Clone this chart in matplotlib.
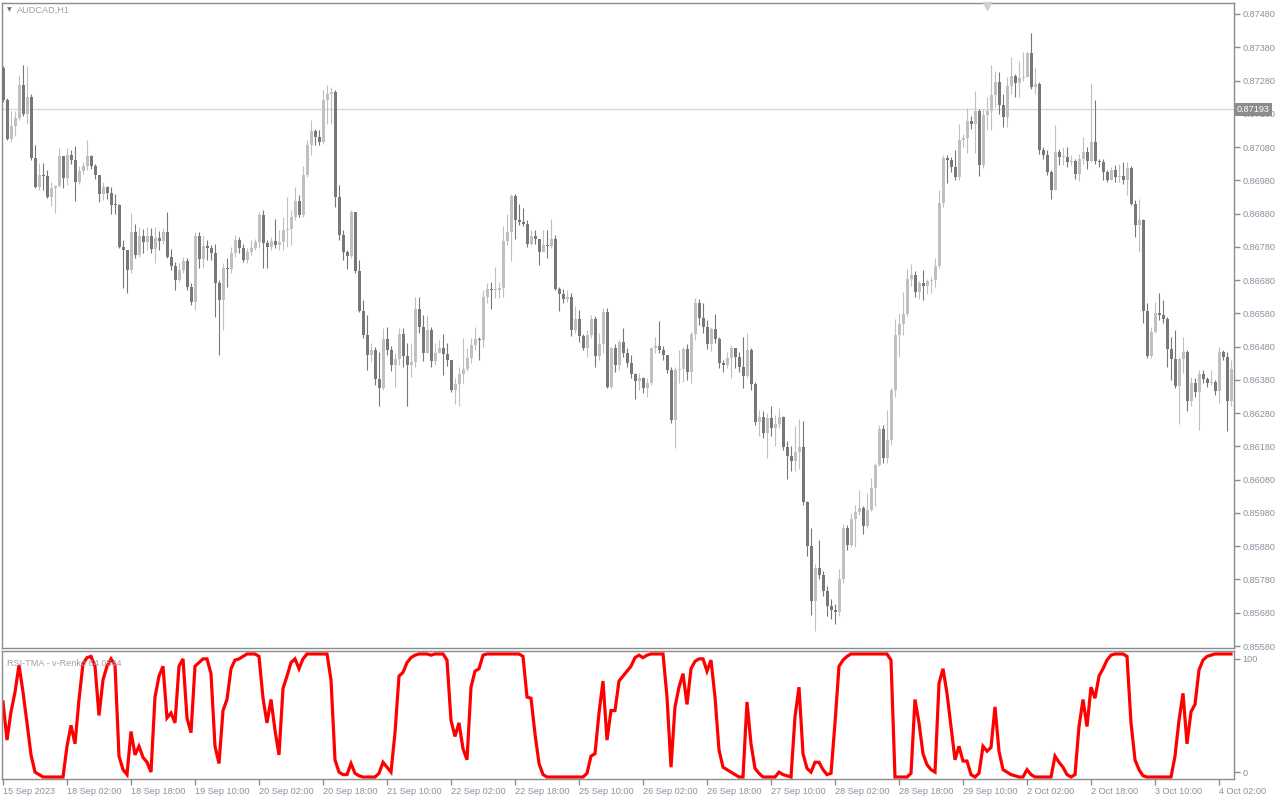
import matplotlib.pyplot as plt
import matplotlib.transforms as mtransforms
import numpy as np

plt.rcParams['font.family'] = ['Liberation Sans', 'DejaVu Sans']

# AUDCAD H1 candles, 15 Sep 2023 10:00 -> 4 Oct 2023 05:00 (308 bars)
first_open = 0.87317
closes = [
    0.87220, 0.87105, 0.87142, 0.87167, 0.87267, 0.87180, 0.87231, 0.87047, 0.86960, 0.86997,
    0.86992, 0.86929, 0.86957, 0.86962, 0.87054, 0.86987, 0.87057, 0.87042, 0.86974, 0.87007,
    0.87022, 0.87052, 0.87022, 0.86995, 0.86939, 0.86959, 0.86942, 0.86907, 0.86905, 0.86780,
    0.86770, 0.86710, 0.86824, 0.86755, 0.86812, 0.86794, 0.86812, 0.86772, 0.86807, 0.86797,
    0.86824, 0.86749, 0.86722, 0.86679, 0.86710, 0.86737, 0.86659, 0.86614, 0.86812, 0.86742,
    0.86782, 0.86775, 0.86762, 0.86672, 0.86620, 0.86717, 0.86712, 0.86762, 0.86802, 0.86775,
    0.86740, 0.86764, 0.86777, 0.86794, 0.86875, 0.86792, 0.86780, 0.86797, 0.86787, 0.86794,
    0.86832, 0.86835, 0.86869, 0.86917, 0.86875, 0.86997, 0.87087, 0.87127, 0.87110, 0.87094,
    0.87222, 0.87239, 0.87245, 0.86929, 0.86815, 0.86765, 0.86752, 0.86885, 0.86707, 0.86587,
    0.86515, 0.86455, 0.86469, 0.86382, 0.86355, 0.86502, 0.86470, 0.86424, 0.86442, 0.86519,
    0.86452, 0.86425, 0.86434, 0.86592, 0.86539, 0.86462, 0.86529, 0.86437, 0.86462, 0.86477,
    0.86457, 0.86439, 0.86350, 0.86367, 0.86397, 0.86412, 0.86447, 0.86484, 0.86502, 0.86499,
    0.86630, 0.86652, 0.86650, 0.86651, 0.86657, 0.86799, 0.86824, 0.86934, 0.86860, 0.86855,
    0.86850, 0.86790, 0.86814, 0.86804, 0.86764, 0.86785, 0.86782, 0.86804, 0.86654, 0.86637,
    0.86622, 0.86630, 0.86530, 0.86562, 0.86512, 0.86475, 0.86514, 0.86562, 0.86452, 0.86487,
    0.86584, 0.86360, 0.86477, 0.86425, 0.86494, 0.86462, 0.86430, 0.86399, 0.86377, 0.86385,
    0.86355, 0.86370, 0.86475, 0.86482, 0.86470, 0.86454, 0.86410, 0.86260, 0.86410, 0.86412,
    0.86472, 0.86404, 0.86517, 0.86610, 0.86567, 0.86539, 0.86487, 0.86532, 0.86502, 0.86430,
    0.86425, 0.86445, 0.86475, 0.86450, 0.86419, 0.86392, 0.86470, 0.86369, 0.86254, 0.86269,
    0.86220, 0.86265, 0.86235, 0.86247, 0.86269, 0.86177, 0.86152, 0.86137, 0.86164, 0.86177,
    0.86014, 0.85882, 0.85714, 0.85814, 0.85794, 0.85744, 0.85699, 0.85687, 0.85682, 0.85782,
    0.85935, 0.85885, 0.85962, 0.85984, 0.85994, 0.85940, 0.85989, 0.86054, 0.86124, 0.86232,
    0.86145, 0.86199, 0.86349, 0.86514, 0.86547, 0.86577, 0.86682, 0.86694, 0.86644, 0.86670,
    0.86662, 0.86677, 0.86680, 0.86722, 0.86912, 0.87047, 0.87042, 0.87020, 0.86990, 0.87102,
    0.87106, 0.87159, 0.87149, 0.87189, 0.87025, 0.87177, 0.87187, 0.87237, 0.87277, 0.87207,
    0.87169, 0.87264, 0.87294, 0.87274, 0.87289, 0.87292, 0.87362, 0.87259, 0.87269, 0.87072,
    0.87057, 0.87004, 0.86950, 0.87065, 0.87049, 0.87051, 0.87034, 0.87037, 0.87000, 0.87044,
    0.87065, 0.87037, 0.87095, 0.87039, 0.87034, 0.87004, 0.86982, 0.87012, 0.86990, 0.86994,
    0.86980, 0.87017, 0.86909, 0.86845, 0.86862, 0.86587, 0.86452, 0.86524, 0.86580, 0.86575,
    0.86564, 0.86472, 0.86444, 0.86362, 0.86442, 0.86464, 0.86317, 0.86372, 0.86345, 0.86397,
    0.86384, 0.86372, 0.86374, 0.86347, 0.86464, 0.86450, 0.86317, 0.86412,
]
highs = [
    0.87325, 0.87227, 0.87187, 0.87187, 0.87297, 0.87327, 0.87324, 0.87240, 0.87087, 0.87032,
    0.87032, 0.87012, 0.86975, 0.86967, 0.87077, 0.87002, 0.87077, 0.87072, 0.87082, 0.87022,
    0.87035, 0.87100, 0.87055, 0.87030, 0.86985, 0.86975, 0.86962, 0.86960, 0.86940, 0.86910,
    0.86800, 0.86765, 0.86882, 0.86850, 0.86840, 0.86835, 0.86840, 0.86838, 0.86840, 0.86828,
    0.86837, 0.86885, 0.86772, 0.86735, 0.86730, 0.86750, 0.86745, 0.86670, 0.86825, 0.86825,
    0.86815, 0.86800, 0.86785, 0.86790, 0.86680, 0.86730, 0.86745, 0.86780, 0.86817, 0.86810,
    0.86790, 0.86777, 0.86800, 0.86805, 0.86885, 0.86890, 0.86800, 0.86810, 0.86865, 0.86830,
    0.86870, 0.86930, 0.86890, 0.86960, 0.86935, 0.87022, 0.87100, 0.87160, 0.87135, 0.87130,
    0.87252, 0.87267, 0.87260, 0.87250, 0.86965, 0.86830, 0.86770, 0.86890, 0.86885, 0.86740,
    0.86620, 0.86575, 0.86490, 0.86480, 0.86465, 0.86537, 0.86540, 0.86482, 0.86460, 0.86537,
    0.86537, 0.86490, 0.86490, 0.86630, 0.86630, 0.86575, 0.86575, 0.86540, 0.86490, 0.86500,
    0.86517, 0.86490, 0.86440, 0.86385, 0.86420, 0.86505, 0.86475, 0.86507, 0.86540, 0.86510,
    0.86650, 0.86670, 0.86675, 0.86720, 0.86675, 0.86842, 0.86880, 0.86940, 0.86940, 0.86910,
    0.86897, 0.86862, 0.86832, 0.86830, 0.86800, 0.86830, 0.86832, 0.86865, 0.86817, 0.86660,
    0.86652, 0.86650, 0.86640, 0.86602, 0.86590, 0.86517, 0.86530, 0.86575, 0.86572, 0.86520,
    0.86595, 0.86595, 0.86480, 0.86487, 0.86500, 0.86535, 0.86475, 0.86455, 0.86400, 0.86400,
    0.86390, 0.86385, 0.86480, 0.86510, 0.86557, 0.86482, 0.86455, 0.86420, 0.86420, 0.86470,
    0.86480, 0.86487, 0.86525, 0.86625, 0.86622, 0.86612, 0.86560, 0.86540, 0.86577, 0.86510,
    0.86440, 0.86465, 0.86485, 0.86465, 0.86465, 0.86510, 0.86522, 0.86475, 0.86375, 0.86290,
    0.86285, 0.86280, 0.86300, 0.86275, 0.86295, 0.86270, 0.86195, 0.86180, 0.86240, 0.86262,
    0.86255, 0.86017, 0.85935, 0.85827, 0.85900, 0.85805, 0.85760, 0.85720, 0.85705, 0.85812,
    0.85948, 0.85945, 0.85980, 0.86005, 0.86050, 0.86000, 0.86040, 0.86085, 0.86130, 0.86245,
    0.86245, 0.86290, 0.86357, 0.86562, 0.86582, 0.86645, 0.86712, 0.86727, 0.86707, 0.86677,
    0.86710, 0.86682, 0.86690, 0.86745, 0.86950, 0.87055, 0.87055, 0.87050, 0.87070, 0.87150,
    0.87120, 0.87197, 0.87172, 0.87247, 0.87195, 0.87195, 0.87230, 0.87327, 0.87310, 0.87305,
    0.87240, 0.87290, 0.87352, 0.87300, 0.87340, 0.87365, 0.87367, 0.87422, 0.87320, 0.87275,
    0.87080, 0.87070, 0.87012, 0.87145, 0.87075, 0.87080, 0.87080, 0.87055, 0.87045, 0.87060,
    0.87110, 0.87080, 0.87272, 0.87222, 0.87045, 0.87045, 0.87010, 0.87020, 0.87025, 0.87030,
    0.87035, 0.87035, 0.87022, 0.86920, 0.86925, 0.86865, 0.86610, 0.86540, 0.86615, 0.86640,
    0.86620, 0.86570, 0.86510, 0.86530, 0.86450, 0.86510, 0.86470, 0.86390, 0.86385, 0.86410,
    0.86410, 0.86390, 0.86410, 0.86380, 0.86480, 0.86470, 0.86465, 0.86440,
]
lows = [
    0.87215, 0.87100, 0.87094, 0.87114, 0.87160, 0.87172, 0.87150, 0.87040, 0.86957, 0.86952,
    0.86950, 0.86927, 0.86902, 0.86882, 0.86960, 0.86957, 0.86967, 0.87030, 0.86917, 0.86970,
    0.87000, 0.87012, 0.87015, 0.86985, 0.86915, 0.86920, 0.86925, 0.86880, 0.86880, 0.86775,
    0.86655, 0.86640, 0.86700, 0.86745, 0.86750, 0.86760, 0.86770, 0.86760, 0.86732, 0.86770,
    0.86790, 0.86745, 0.86710, 0.86650, 0.86675, 0.86700, 0.86650, 0.86605, 0.86590, 0.86715,
    0.86715, 0.86740, 0.86740, 0.86570, 0.86455, 0.86530, 0.86660, 0.86700, 0.86750, 0.86760,
    0.86735, 0.86730, 0.86755, 0.86770, 0.86775, 0.86715, 0.86715, 0.86770, 0.86775, 0.86770,
    0.86770, 0.86780, 0.86785, 0.86860, 0.86870, 0.86870, 0.86990, 0.87055, 0.87085, 0.87085,
    0.87090, 0.87150, 0.87150, 0.86900, 0.86800, 0.86740, 0.86712, 0.86745, 0.86700, 0.86585,
    0.86505, 0.86410, 0.86435, 0.86365, 0.86300, 0.86350, 0.86455, 0.86407, 0.86360, 0.86425,
    0.86420, 0.86300, 0.86390, 0.86420, 0.86520, 0.86437, 0.86480, 0.86420, 0.86425, 0.86465,
    0.86395, 0.86422, 0.86345, 0.86307, 0.86300, 0.86370, 0.86407, 0.86432, 0.86470, 0.86440,
    0.86480, 0.86610, 0.86592, 0.86625, 0.86625, 0.86630, 0.86785, 0.86737, 0.86805, 0.86845,
    0.86842, 0.86780, 0.86785, 0.86790, 0.86725, 0.86765, 0.86747, 0.86775, 0.86650, 0.86587,
    0.86610, 0.86615, 0.86512, 0.86520, 0.86495, 0.86470, 0.86450, 0.86505, 0.86420, 0.86440,
    0.86460, 0.86355, 0.86355, 0.86405, 0.86410, 0.86450, 0.86420, 0.86385, 0.86322, 0.86350,
    0.86340, 0.86330, 0.86365, 0.86460, 0.86460, 0.86440, 0.86400, 0.86250, 0.86175, 0.86370,
    0.86375, 0.86380, 0.86372, 0.86500, 0.86545, 0.86522, 0.86472, 0.86467, 0.86490, 0.86415,
    0.86405, 0.86417, 0.86387, 0.86417, 0.86405, 0.86355, 0.86385, 0.86350, 0.86245, 0.86210,
    0.86205, 0.86145, 0.86210, 0.86180, 0.86235, 0.86170, 0.86082, 0.86107, 0.86105, 0.86112,
    0.86005, 0.85850, 0.85672, 0.85625, 0.85780, 0.85730, 0.85670, 0.85660, 0.85647, 0.85670,
    0.85770, 0.85870, 0.85877, 0.85877, 0.85975, 0.85917, 0.85935, 0.85985, 0.86000, 0.86120,
    0.86130, 0.86130, 0.86185, 0.86330, 0.86450, 0.86515, 0.86572, 0.86662, 0.86630, 0.86622,
    0.86620, 0.86637, 0.86640, 0.86660, 0.86715, 0.86900, 0.86972, 0.87005, 0.86980, 0.86982,
    0.87080, 0.87062, 0.87135, 0.87062, 0.86992, 0.87017, 0.87130, 0.87130, 0.87200, 0.87180,
    0.87140, 0.87140, 0.87240, 0.87230, 0.87230, 0.87280, 0.87290, 0.87255, 0.87240, 0.87060,
    0.87045, 0.86995, 0.86925, 0.86950, 0.87025, 0.87025, 0.87020, 0.87025, 0.86985, 0.86977,
    0.87030, 0.87015, 0.87035, 0.87030, 0.87020, 0.86980, 0.86975, 0.86980, 0.86975, 0.86975,
    0.86970, 0.86935, 0.86905, 0.86810, 0.86765, 0.86552, 0.86447, 0.86447, 0.86520, 0.86560,
    0.86550, 0.86420, 0.86380, 0.86355, 0.86248, 0.86400, 0.86285, 0.86300, 0.86330, 0.86230,
    0.86370, 0.86360, 0.86365, 0.86335, 0.86310, 0.86440, 0.86225, 0.86300,
]

# RSI-TMA indicator values (0..100)
rsi_tma = [
    61, 30, 53, 69, 91, 69, 44, 18, 4, 2, 0, 0, 0, 0, 0, 0, 25, 42, 27, 63,
    92, 97, 98, 90, 50, 79, 90, 96, 91, 17, 6, 2, 37, 18, 25, 16, 12, 4, 65, 82,
    90, 48, 52, 44, 90, 96, 48, 36, 90, 93, 96, 96, 84, 25, 11, 54, 63, 88, 95, 96,
    98, 100, 100, 100, 98, 64, 44, 63, 38, 18, 72, 82, 93, 96, 88, 96, 100, 100, 100, 100,
    100, 100, 79, 14, 4, 2, 2, 11, 3, 1, 0, 0, 0, 0, 3, 12, 8, 4, 36, 82,
    85, 93, 97, 99, 100, 100, 100, 99, 100, 100, 100, 95, 46, 33, 44, 23, 14, 73, 86, 88,
    99, 100, 100, 100, 100, 100, 100, 100, 100, 100, 98, 65, 64, 35, 11, 2, 0, 0, 0, 0,
    0, 0, 0, 0, 0, 0, 3, 17, 19, 52, 78, 30, 54, 54, 78, 82, 86, 90, 97, 99,
    97, 99, 100, 100, 100, 100, 65, 8, 57, 73, 84, 59, 88, 94, 96, 96, 86, 95, 65, 22,
    8, 6, 4, 2, 0, 0, 61, 27, 7, 3, 0, 0, 0, 0, 4, 2, 1, 0, 49, 73,
    19, 7, 4, 12, 12, 6, 2, 3, 44, 90, 95, 98, 100, 100, 100, 100, 100, 100, 100, 100,
    100, 100, 95, 0, 0, 0, 0, 3, 63, 44, 19, 10, 6, 4, 76, 88, 68, 41, 14, 25,
    13, 13, 2, 0, 3, 25, 21, 24, 57, 21, 6, 4, 2, 1, 0, 0, 6, 2, 0, 0,
    0, 0, 0, 17, 12, 8, 2, 0, 2, 41, 63, 41, 73, 64, 82, 88, 95, 99, 100, 100,
    100, 98, 44, 14, 6, 1, 0, 0, 0, 0, 0, 0, 0, 17, 46, 68, 27, 53, 59, 87,
    95, 98, 99, 100, 100, 100, 100, 100,
]

date_pos = [0, 16, 32, 48, 64, 80, 96, 112, 128, 144, 160, 176, 192, 208, 224, 240, 256, 272, 288, 304]
date_labels = ['15 Sep 2023', '18 Sep 02:00', '18 Sep 18:00', '19 Sep 10:00', '20 Sep 02:00',
               '20 Sep 18:00', '21 Sep 10:00', '22 Sep 02:00', '22 Sep 18:00', '25 Sep 10:00',
               '26 Sep 02:00', '26 Sep 18:00', '27 Sep 10:00', '28 Sep 02:00', '28 Sep 18:00',
               '29 Sep 10:00', '2 Oct 02:00', '2 Oct 18:00', '3 Oct 10:00', '4 Oct 02:00']
price_ticks = [0.87480, 0.87380, 0.87280, 0.87180, 0.87080, 0.86980, 0.86880, 0.86780, 0.86680,
               0.86580, 0.86480, 0.86380, 0.86280, 0.86180, 0.86080, 0.85980, 0.85880, 0.85780,
               0.85680, 0.85580]
line_price = 0.87193

BULL = '#c0c0c0'
BEAR = '#787878'
FRAME = '#8c8c8c'
TXT = '#8c90a0'
FS = 6.6

closes = np.array(closes)
opens = np.concatenate([[first_open], closes[:-1]])
hi = np.maximum(np.array(highs), np.maximum(opens, closes))
lo = np.minimum(np.array(lows), np.minimum(opens, closes))
x = np.arange(len(closes))
cols = [BULL if c >= o else BEAR for o, c in zip(opens, closes)]

fig = plt.figure(figsize=(12.8, 8), dpi=100)
ax = fig.add_axes([2 / 1280, 1 - 648 / 800, 1232 / 1280, 645 / 800])
ax2 = fig.add_axes([2 / 1280, 1 - 779 / 800, 1232 / 1280, 128 / 800])

# price chart
ax.axhline(line_price, color='#d8d8d8', lw=1, zorder=1)
ax.vlines(x, lo, hi, colors=cols, lw=0.8, zorder=2)
body_h = np.maximum(np.abs(closes - opens), 0.00003)
ax.bar(x, body_h, bottom=np.minimum(opens, closes), width=0.75, color=cols, lw=0, zorder=3)

ax.set_xlim(-0.25, 307.75)
ax.set_ylim(0.85574, 0.87513)
ax.yaxis.tick_right()
ax.set_yticks(price_ticks)
ax.set_yticklabels(['%.5f' % p for p in price_ticks])
ax.tick_params(axis='y', direction='out', length=4, width=1, color=FRAME, labelcolor=TXT,
               labelsize=FS, pad=2)
ax.tick_params(axis='x', bottom=False, labelbottom=False)
for s in ax.spines.values():
    s.set_color(FRAME)
    s.set_linewidth(1)

trans = mtransforms.blended_transform_factory(ax.transAxes, ax.transData)
ax.text(1.0025, line_price, '0.87193', transform=trans, ha='left', va='center', fontsize=FS,
        color='white', bbox=dict(fc='#8c8c8c', ec='none', pad=1.3), zorder=5)
ax.text(0.004, 0.989, '\u25bc', transform=ax.transAxes, fontsize=4.5, color='#707070',
        va='center', family='DejaVu Sans')
ax.text(0.0125, 0.989, 'AUDCAD,H1', transform=ax.transAxes, fontsize=FS, color='#a0a0ac',
        va='center')
ax.plot([246], [0.87505], marker='v', ms=6, color='#d0d0d0', clip_on=False, zorder=6)

# indicator
ax2.plot(x, rsi_tma, color='#ff0000', lw=2.3, solid_joinstyle='miter')
ax2.set_xlim(-0.25, 307.75)
ax2.set_ylim(-1.6, 102.4)
ax2.yaxis.tick_right()
ax2.set_yticks([4, 96])
ax2.set_yticklabels(['0', '100'])
ax2.tick_params(axis='y', direction='out', length=4, width=1, color=FRAME, labelcolor=TXT,
                labelsize=FS, pad=2)
ax2.set_xticks(date_pos)
ax2.set_xticklabels(date_labels, ha='left')
ax2.tick_params(axis='x', direction='out', length=4, width=1, color=FRAME, labelcolor=TXT,
                labelsize=FS, pad=2)
for s in ax2.spines.values():
    s.set_color(FRAME)
    s.set_linewidth(1)
ax2.text(0.004, 0.9, 'RSI-TMA - v-Renko 64.0544', transform=ax2.transAxes, fontsize=FS,
         color='#a0a0ac', va='center')

fig.savefig('out.png', dpi=100, facecolor='white')
